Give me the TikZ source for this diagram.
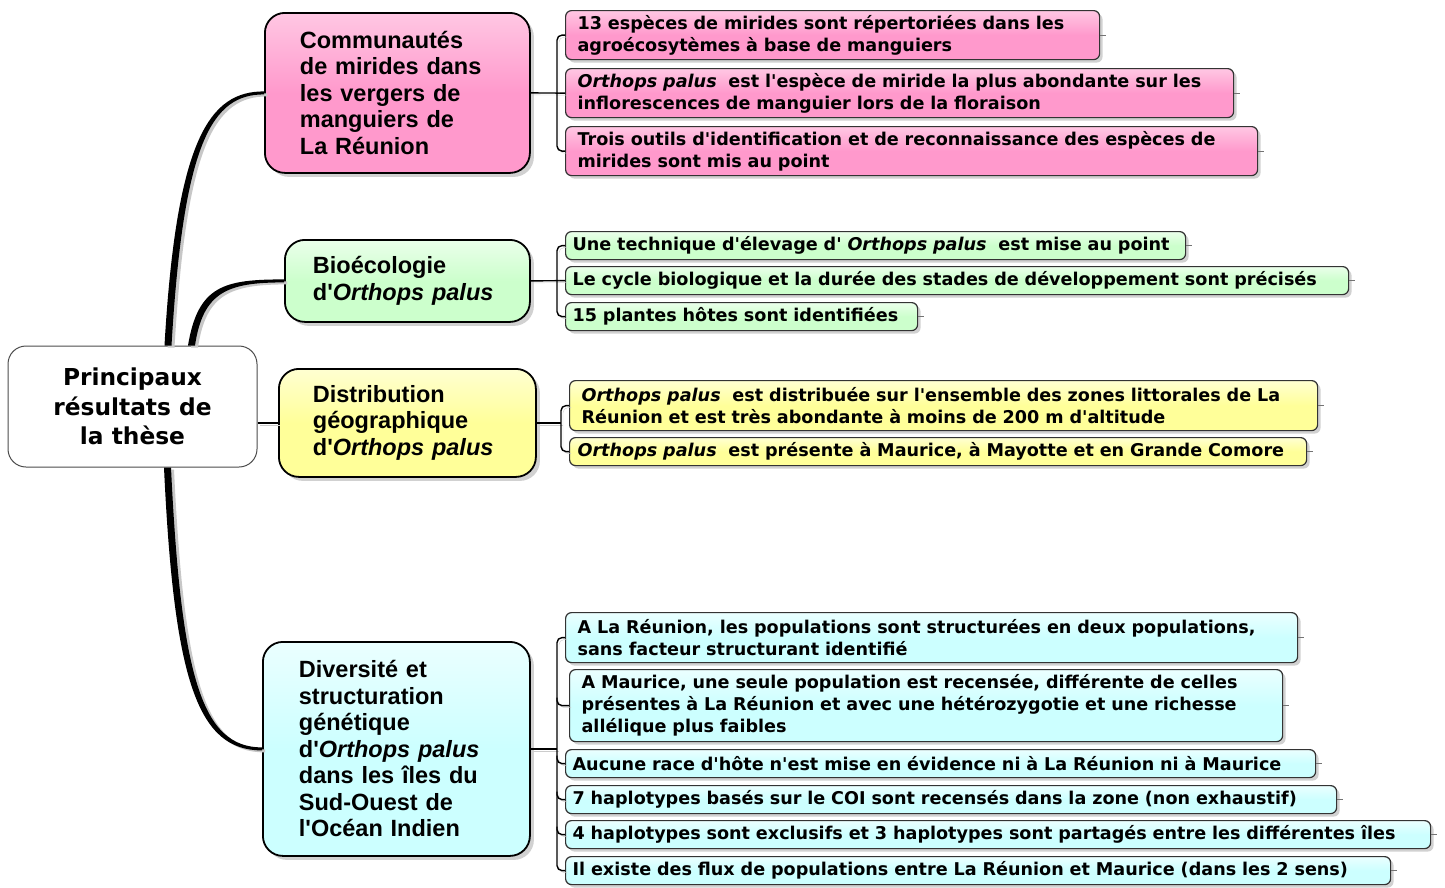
\documentclass[tikz,border=0pt]{standalone}
\usepackage{fontspec}
\usepackage{xcolor}
\usetikzlibrary{calc,shadows}
\newfontfamily\leaffont{DejaVu Sans}
\newfontfamily\topicfont{Liberation Sans}
\definecolor{pinkfill}{RGB}{255,153,204}
\definecolor{greenfill}{RGB}{204,255,204}
\definecolor{yellowfill}{RGB}{255,255,153}
\definecolor{cyanfill}{RGB}{204,255,255}
\newcommand{\orthops}{\textit{Orthops palus}}

\tikzset{
  topic/.style={draw=black, line width=1.8pt, rounded corners=20pt, anchor=north west,
    align=left, inner ysep=0pt,
    font=\topicfont\bfseries\fontsize{23.5}{26.5}\selectfont,
    drop shadow={shadow xshift=4pt, shadow yshift=-4pt, fill=black!18, opacity=1}},
  leaf/.style={draw=black!80, line width=1.2pt, rounded corners=6pt, anchor=north west,
    align=left, inner ysep=0pt,
    font=\leaffont\bfseries\fontsize{17.6}{22}\selectfont,
    drop shadow={shadow xshift=3pt, shadow yshift=-3pt, fill=black!18, opacity=1}},
  pinkbox/.style={top color=pinkfill!55!white, bottom color=pinkfill, middle color=pinkfill},
  greenbox/.style={top color=greenfill!40!white, bottom color=greenfill, middle color=greenfill},
  yellowbox/.style={top color=yellowfill!45!white, bottom color=yellowfill, middle color=yellowfill},
  cyanbox/.style={top color=cyanfill!40!white, bottom color=cyanfill, middle color=cyanfill},
  trunk/.style={fill=black, preaction={fill=black!22, transform canvas={xshift=3pt, yshift=-2pt}}},
  branch/.style={draw=black, line width=1.4pt, rounded corners=5pt,
    preaction={draw=black!20, transform canvas={xshift=2pt, yshift=-2pt}}},
  stub/.style={draw=black!55, line width=0.8pt},
}

\begin{document}
\begin{tikzpicture}[x=1pt, y=-1pt]
    \useasboundingbox (0,0) rectangle (1445,887);

    % Central node
    \node[draw=black!70, line width=1pt, rounded corners=18pt, fill=white, align=center,
      minimum width=249pt, minimum height=121pt,
      font=\leaffont\bfseries\fontsize{23.3}{29.5}\selectfont] (main) at (132.5,406.5)
      {Principaux\\résultats de\\la thèse};

    % Topics
    \node[topic, pinkbox, text width=195pt, inner xsep=35pt, minimum height=160pt] (mir) at (264,12)
      {Communautés\\de mirides dans\\les vergers de\\manguiers de\\La Réunion};
    \node[topic, greenbox, text width=189pt, inner xsep=28pt, minimum height=82pt] (bio) at (284,239)
      {Bioécologie\\d'\orthops};
    \node[topic, yellowbox, text width=189pt, inner xsep=34pt, minimum height=108pt] (geo) at (278,368)
      {Distribution\\géographique\\d'\orthops};
    \node[topic, cyanbox, text width=195pt, inner xsep=36pt, minimum height=214pt] (div) at (262,641)
      {Diversité et\\structuration\\génétique\\d'\orthops\\dans les îles du\\Sud-Ouest de\\l'Océan Indien};

    % Leaves: mirides
    \node[leaf, pinkbox, text width=510pt, inner xsep=12pt, minimum height=49pt] (p1) at (565,10)
      {13 espèces de mirides sont répertoriées dans les\\agroécosytèmes à base de manguiers};
    \node[leaf, pinkbox, text width=644pt, inner xsep=12pt, minimum height=49pt] (p2) at (565,68)
      {\orthops\ \ est l'espèce de miride la plus abondante sur les\\inflorescences de manguier lors de la floraison};
    \node[leaf, pinkbox, text width=668pt, inner xsep=12pt, minimum height=49pt] (p3) at (565,126)
      {Trois outils d'identification et de reconnaissance des espèces de\\mirides sont mis au point};

    % Leaves: bioecologie
    \node[leaf, greenbox, text width=606pt, inner xsep=7pt, minimum height=28pt] (g1) at (565,231)
      {Une technique d'élevage d' \orthops\ \ est mise au point};
    \node[leaf, greenbox, text width=769pt, inner xsep=7pt, minimum height=28pt] (g2) at (565,266)
      {Le cycle biologique et la durée des stades de développement sont précisés};
    \node[leaf, greenbox, text width=338pt, inner xsep=7pt, minimum height=28pt] (g3) at (565,302)
      {15 plantes hôtes sont identifiées};

    % Leaves: distribution
    \node[leaf, yellowbox, text width=724pt, inner xsep=12pt, minimum height=50pt] (y1) at (569,380)
      {\orthops\ \ est distribuée sur l'ensemble des zones littorales de La\\Réunion et est très abondante à moins de 200 m d'altitude};
    \node[leaf, yellowbox, text width=721pt, inner xsep=8pt, minimum height=28pt] (y2) at (569,437)
      {\orthops\ \ est présente à Maurice, à Mayotte et en Grande Comore};

    % Leaves: diversite
    \node[leaf, cyanbox, text width=708pt, inner xsep=12pt, minimum height=50pt] (c1) at (565,612)
      {A La Réunion, les populations sont structurées en deux populations,\\sans facteur structurant identifié};
    \node[leaf, cyanbox, text width=689pt, inner xsep=12pt, minimum height=72pt] (c2) at (569,669)
      {A Maurice, une seule population est recensée, différente de celles\\présentes à La Réunion et avec une hétérozygotie et une richesse\\allélique plus faibles};
    \node[leaf, cyanbox, text width=736pt, inner xsep=7pt, minimum height=28pt] (c3) at (565,749)
      {Aucune race d'hôte n'est mise en évidence ni à La Réunion ni à Maurice};
    \node[leaf, cyanbox, text width=757pt, inner xsep=7pt, minimum height=28pt] (c4) at (565,785)
      {7 haplotypes basés sur le COI sont recensés dans la zone (non exhaustif)};
    \node[leaf, cyanbox, text width=851pt, inner xsep=7pt, minimum height=28pt] (c5) at (565,820)
      {4 haplotypes sont exclusifs et 3 haplotypes sont partagés entre les différentes îles};
    \node[leaf, cyanbox, text width=811pt, inner xsep=7pt, minimum height=28pt] (c6) at (565,856)
      {Il existe des flux de populations entre La Réunion et Maurice (dans les 2 sens)};

    % Trunks from the central node
    \fill[trunk] ($(main.north)+(32,0)$) .. controls +(12,-208) and +(-54,0) .. ($(mir.west)+(0,-1.5)$)
      -- ($(mir.west)+(0,1.5)$) .. controls +(-52,0) and +(12,-204) .. ($(main.north)+(39,0)$) -- cycle;
    \fill[trunk] ($(main.north)+(55.5,0)$) .. controls +(10,-60) and +(-60,0) .. ($(bio.west)+(0,-1.5)$)
      -- ($(bio.west)+(0,1.5)$) .. controls +(-56,0) and +(8,-54) .. ($(main.north)+(62.5,0)$) -- cycle;
    \fill[trunk] ($(main.south)+(31.5,0)$) .. controls +(10,215) and +(-64,0) .. ($(div.west)+(0,1.5)$)
      -- ($(div.west)+(0,-1.5)$) .. controls +(-60,0) and +(10,210) .. ($(main.south)+(38.5,0)$) -- cycle;
    \draw[branch] (main.east |- geo.west) -- (geo.west);

    % Branches to the leaves
    \draw[branch] (mir.east) -- (p2.west);
    \draw[branch] (p1.west) -- ++(-8,0) |- (p3.west);
    \draw[branch] (bio.east) -- (g2.west);
    \draw[branch] (g1.west) -- ++(-8,0) |- (g3.west);
    \draw[branch] (geo.east) -- ([xshift=-8pt]geo.east -| y1.west);
    \draw[branch] (y1.west) -- ++(-8,0) |- (y2.west);
    \draw[branch] (div.east) -- ([xshift=-8pt]div.east -| c1.west);
    \draw[branch] (c1.west) -- ++(-8,0) |- (c6.west);
    \draw[branch] (c2.west) -| ++(-12,-8);
    \draw[branch] (c3.west) -| ++(-8,-8);
    \draw[branch] (c4.west) -| ++(-8,-8);
    \draw[branch] (c5.west) -| ++(-8,-8);

    % Stubs on the right of the leaves
    \foreach \n in {p1,p2,p3,g1,g2,g3,y1,y2,c1,c2,c3,c4,c5,c6}
      \draw[stub] (\n.east) -- ++(6,0);
\end{tikzpicture}
\end{document}
